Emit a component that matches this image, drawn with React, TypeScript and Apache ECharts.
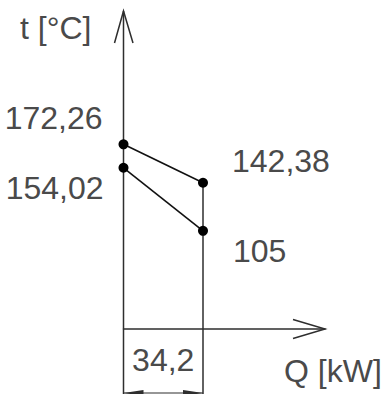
import React, { useEffect, useRef } from 'react';
import * as echarts from 'echarts';

// Heat duty at the two ends of the exchanger [kW]
const qValues = [0, 34.2];
// Hot stream temperatures at Q = 0 and Q = 34.2 [°C]
const hotTemps = [172.26, 142.38];
// Cold stream temperatures at Q = 0 and Q = 34.2 [°C]
const coldTemps = [154.02, 105];
const yAxisTitle = 't [°C]';
const xAxisTitle = 'Q [kW]';

const fmt = (v: number) => String(v).replace('.', ',');

export default function App() {
  const ref = useRef<HTMLDivElement>(null);

  useEffect(() => {
    const chart = echarts.init(ref.current!, null, { renderer: 'svg' });
    const INK = '#2e2e2e';
    const TEXT = '#4a4a4a';
    const FONT = '"Liberation Sans", Arial, sans-serif';
    const FS = 32;
    const labelBase = { show: true, fontFamily: FONT, fontSize: FS, color: TEXT, formatter: (p: any) => fmt(p.value[1]) };

    // layout of the schematic (pixel frame)
    const gridLeft = 123.5, gridTop = 11, axisRight = 325, axisY = 329;
    const W = 390, H = 394;
    const qEndPx = 203;
    const xMax = qValues[1] * (axisRight - gridLeft) / (qEndPx - gridLeft);

    const series = [
      {
        type: 'line',
        data: [
          { value: [qValues[0], hotTemps[0]], label: { ...labelBase, position: 'left', offset: [-11, -26] } },
          { value: [qValues[1], hotTemps[1]], label: { ...labelBase, position: 'right', offset: [19, -22] } },
        ],
      },
      {
        type: 'line',
        data: [
          { value: [qValues[0], coldTemps[0]], label: { ...labelBase, position: 'left', offset: [-10, 20] } },
          { value: [qValues[1], coldTemps[1]], label: { ...labelBase, position: 'right', offset: [20, 20] } },
        ],
      },
    ].map((s) => ({
      ...s,
      symbol: 'circle',
      symbolSize: 10,
      itemStyle: { color: '#000' },
      lineStyle: { color: '#111', width: 1.6 },
      z: 5,
    }));

    chart.setOption({
      animation: false,
      grid: { left: gridLeft, top: gridTop, right: W - axisRight, bottom: H - axisY, containLabel: false },
      xAxis: {
        type: 'value', min: 0, max: xMax,
        axisLine: { show: true, lineStyle: { color: INK, width: 1.5 } },
        axisTick: { show: false }, axisLabel: { show: false }, splitLine: { show: false },
      },
      yAxis: {
        type: 'value', min: 28.6, max: 276,
        axisLine: { show: false }, axisTick: { show: false }, axisLabel: { show: false }, splitLine: { show: false },
      },
      series,
    });

    const p0 = chart.convertToPixel({ gridIndex: 0 }, [0, 28.6]) as number[];
    const pTop = chart.convertToPixel({ gridIndex: 0 }, [0, 276]) as number[];
    const pEnd = chart.convertToPixel({ gridIndex: 0 }, [xMax, 28.6]) as number[];
    const pR = chart.convertToPixel({ gridIndex: 0 }, [qValues[1], hotTemps[1]]) as number[];
    const x0 = p0[0], y0 = p0[1], xR = pR[0];
    const dimY = H - 1;
    const lineStyle = { stroke: INK, lineWidth: 1.5, fill: null };
    const textStyle = (text: string, x: number, y: number, align: string) => ({
      text, x, y, fill: TEXT, font: `${FS}px ${FONT}`,
      textAlign: align, textVerticalAlign: 'middle', align, verticalAlign: 'middle',
    });

    chart.setOption({
      graphic: [
        { type: 'line', shape: { x1: x0, y1: pTop[1], x2: x0, y2: H }, style: lineStyle },
        { type: 'polyline', shape: { points: [[x0 - 9, pTop[1] + 32], [x0, pTop[1]], [x0 + 9.5, pTop[1] + 32]] }, style: lineStyle },
        { type: 'polyline', shape: { points: [[pEnd[0] - 32, y0 - 9.5], [pEnd[0], y0], [pEnd[0] - 32, y0 + 9.5]] }, style: lineStyle },
        { type: 'line', shape: { x1: xR, y1: pR[1], x2: xR, y2: H }, style: lineStyle },
        { type: 'line', shape: { x1: x0, y1: dimY, x2: xR, y2: dimY }, style: { stroke: INK, lineWidth: 1.2 } },
        { type: 'polygon', shape: { points: [[x0, dimY], [x0 + 20, dimY - 3], [x0 + 20, dimY + 3]] }, style: { fill: INK } },
        { type: 'polygon', shape: { points: [[xR, dimY], [xR - 20, dimY - 3], [xR - 20, dimY + 3]] }, style: { fill: INK } },
        { type: 'text', style: textStyle(yAxisTitle, 20, 28, 'left') },
        { type: 'text', style: textStyle(xAxisTitle, 284, 371, 'left') },
        { type: 'text', style: textStyle(fmt(qValues[1] - qValues[0]), (x0 + xR) / 2, 360, 'center') },
      ],
    });

    return () => chart.dispose();
  }, []);

  return <div ref={ref} style={{ position: 'absolute', left: 0, top: 0, width: 390, height: 394, background: '#fff' }} />;
}
